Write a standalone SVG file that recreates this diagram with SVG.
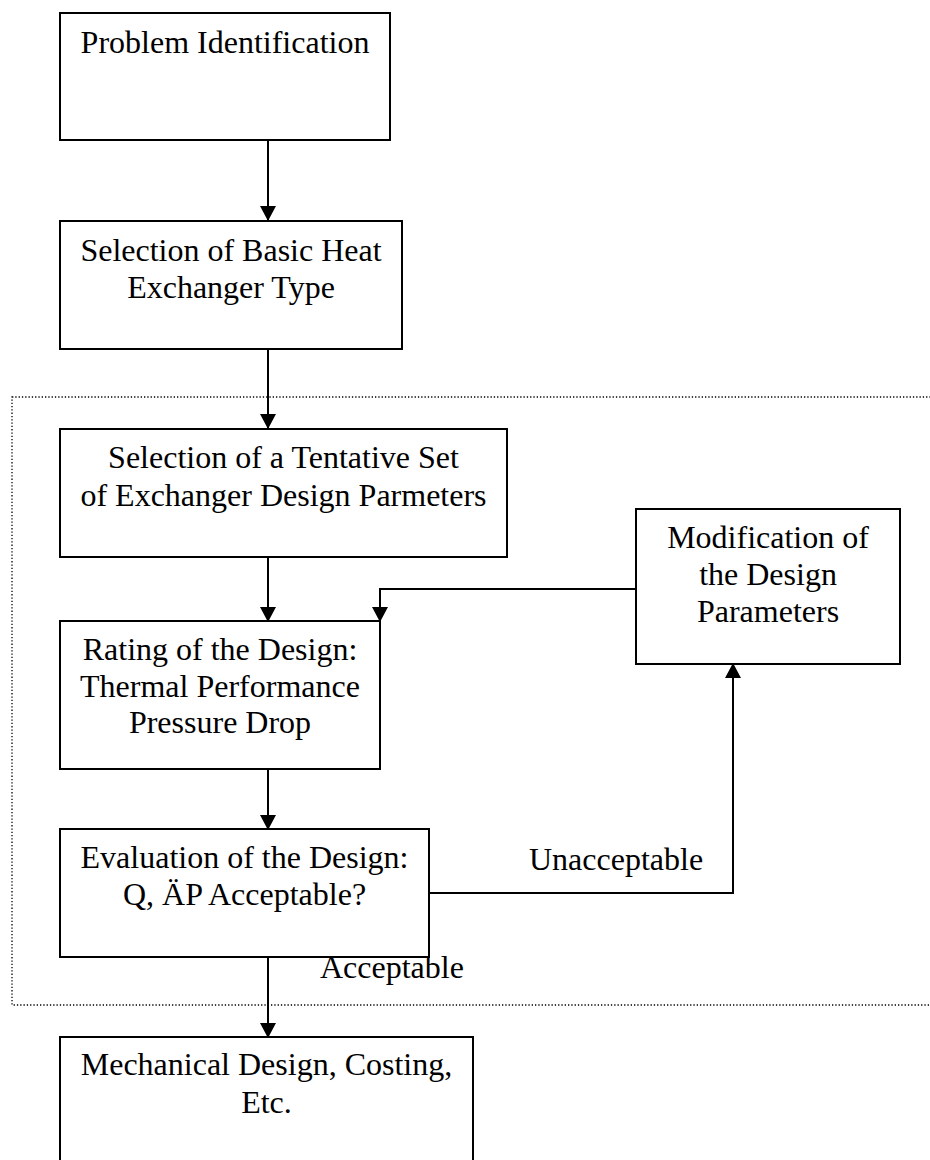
<svg xmlns="http://www.w3.org/2000/svg" width="930" height="1160" viewBox="0 0 930 1160">
  <style>
    .box { fill: #ffffff; stroke: #000000; stroke-width: 2; }
    .lbl { font-family: "Liberation Serif", "Times New Roman", serif; font-size: 32px; fill: #000000; text-anchor: middle; }
    .free { font-family: "Liberation Serif", "Times New Roman", serif; font-size: 32px; fill: #000000; }
    .wire { fill: none; stroke: #000000; stroke-width: 2; }
    .frame { fill: none; stroke: #000000; stroke-width: 1.3; stroke-dasharray: 1.3 2; }
  </style>
  <defs>
    <marker id="arr" viewBox="0 0 15 16" markerWidth="15" markerHeight="16" refX="14" refY="8" orient="auto" markerUnits="userSpaceOnUse">
      <path d="M0,0 L15,8 L0,16 z" fill="#000000"/>
    </marker>
  </defs>

  <!-- dotted boundary around the design loop -->
  <rect class="frame" x="12" y="397" width="930" height="608"/>

  <g id="connectors">
    <line class="wire" x1="268" y1="140" x2="268" y2="220" marker-end="url(#arr)"/>
    <line class="wire" x1="268" y1="349" x2="268" y2="428" marker-end="url(#arr)"/>
    <line class="wire" x1="268" y1="557" x2="268" y2="621" marker-end="url(#arr)"/>
    <polyline class="wire" points="636,589 380,589 380,621" marker-end="url(#arr)"/>
    <line class="wire" x1="268" y1="769" x2="268" y2="829" marker-end="url(#arr)"/>
    <polyline class="wire" points="429,893 733,893 733,664" marker-end="url(#arr)"/>
    <line class="wire" x1="268" y1="957" x2="268" y2="1037" marker-end="url(#arr)"/>
    <text class="free" x="529" y="870">Unacceptable</text>
    <text class="free" x="320" y="978">Acceptable</text>
  </g>

  <g id="problem-identification">
    <rect class="box" x="60" y="13" width="330" height="127"/>
    <text class="lbl" x="225" y="53">Problem Identification</text>
  </g>

  <g id="basic-type">
    <rect class="box" x="60" y="221" width="342" height="128"/>
    <text class="lbl" x="231" y="261">Selection of Basic Heat</text>
    <text class="lbl" x="231" y="298">Exchanger Type</text>
  </g>

  <g id="tentative-set">
    <rect class="box" x="60" y="429" width="447" height="128"/>
    <text class="lbl" x="283.5" y="468">Selection of a Tentative Set</text>
    <text class="lbl" x="283.5" y="506">of Exchanger Design Parmeters</text>
  </g>

  <g id="modification">
    <rect class="box" x="636" y="509" width="264" height="155"/>
    <text class="lbl" x="768" y="548">Modification of</text>
    <text class="lbl" x="768" y="585">the Design</text>
    <text class="lbl" x="768" y="622">Parameters</text>
  </g>

  <g id="rating">
    <rect class="box" x="60" y="621" width="320" height="148"/>
    <text class="lbl" x="220" y="660">Rating of the Design:</text>
    <text class="lbl" x="220" y="697">Thermal Performance</text>
    <text class="lbl" x="220" y="733">Pressure Drop</text>
  </g>

  <g id="evaluation">
    <rect class="box" x="60" y="829" width="369" height="128"/>
    <text class="lbl" x="244.5" y="868">Evaluation of the Design:</text>
    <text class="lbl" x="244.5" y="905">Q, ÄP Acceptable?</text>
  </g>

  <g id="mechanical-design">
    <rect class="box" x="60" y="1037" width="413" height="130"/>
    <text class="lbl" x="266.5" y="1075">Mechanical Design, Costing,</text>
    <text class="lbl" x="266.5" y="1113">Etc.</text>
  </g>
</svg>
